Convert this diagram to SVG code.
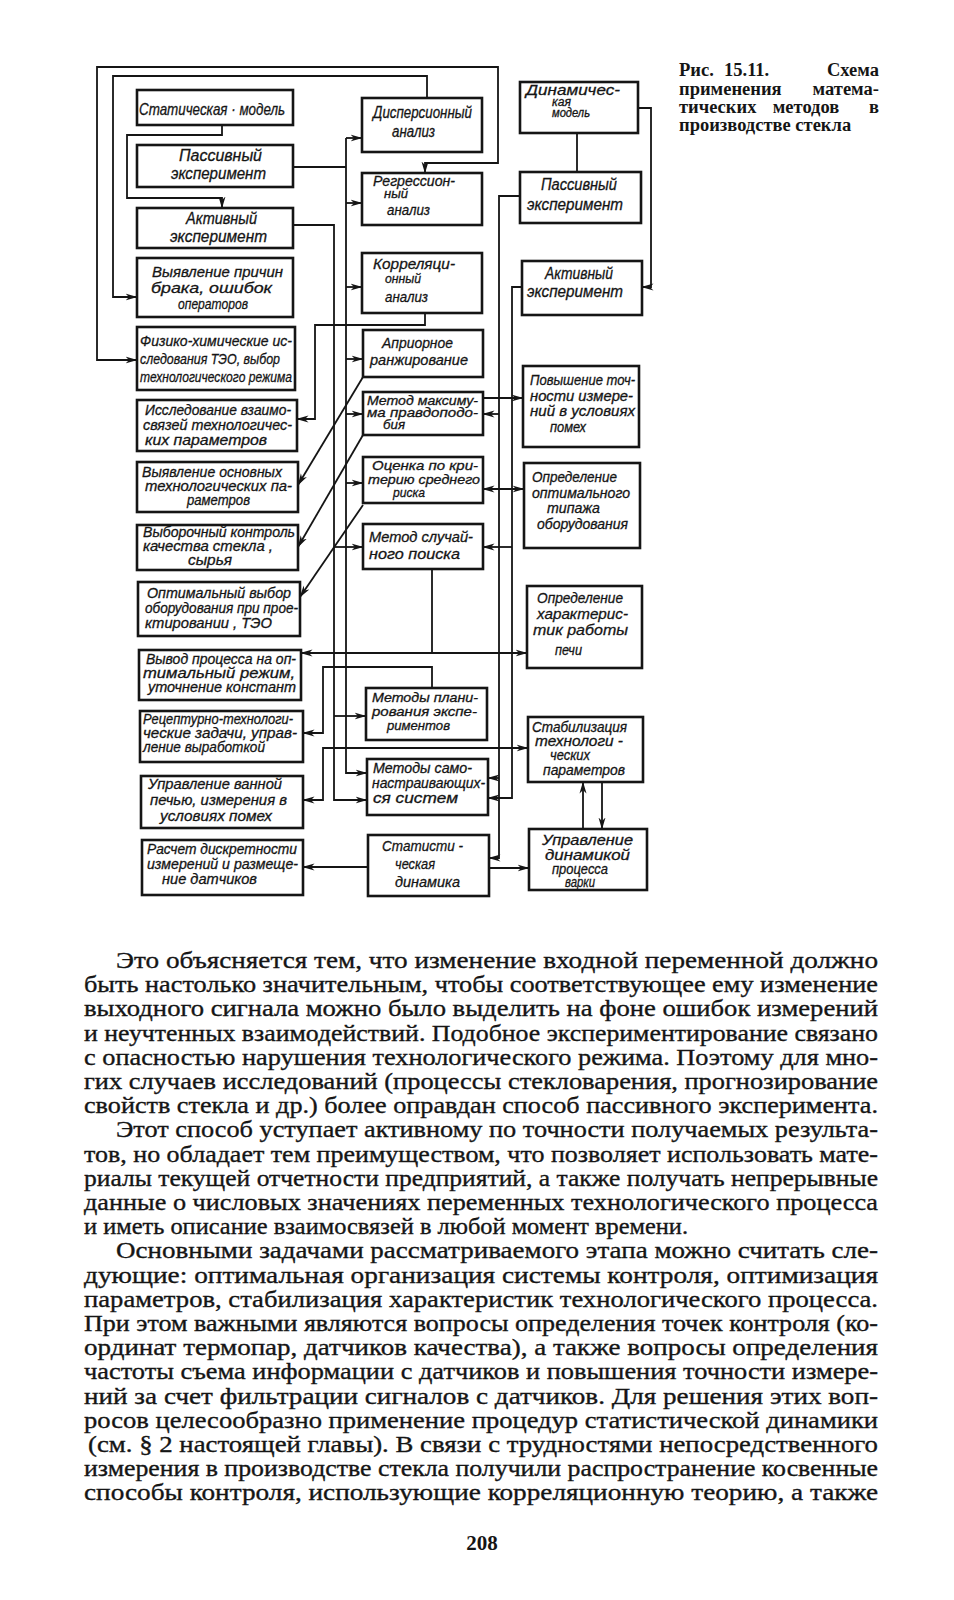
<svg xmlns="http://www.w3.org/2000/svg" width="954" height="1600" viewBox="0 0 954 1600">
<style>
.box{fill:#fff;stroke:#151515;stroke-width:2.6}
.ln{fill:none;stroke:#151515;stroke-width:1.8}
.t{font-family:"Liberation Sans",Arial,sans-serif;font-style:italic;font-size:14px;fill:#151515;stroke:#151515;stroke-width:0.3}
.t2{font-size:16px}
.t15{font-size:15px}
.t13{font-size:13px}
.t12{font-size:12px}
.body{font-family:"Liberation Serif","Times New Roman",serif;font-size:23.5px;fill:#151515;stroke:#151515;stroke-width:0.35}
.cap{font-family:"Liberation Serif","Times New Roman",serif;font-weight:bold;font-size:18.5px;fill:#151515}
</style>
<defs>
<marker id="ah" viewBox="0 0 12 8" refX="11.5" refY="4" markerWidth="12" markerHeight="8" markerUnits="userSpaceOnUse" orient="auto-start-reverse"><path d="M0,0.5 L12,4 L0,7.5 L3.5,4 z" fill="#151515"/></marker>
</defs>
<rect width="954" height="1600" fill="#fff"/>

<g id="connectors">
<path class="ln" d="M425,173 V163 H498 V67 H97 V360 H137" marker-start="url(#ah)" marker-end="url(#ah)"/>
<path class="ln" d="M427,98 V76 H113 V297 H137" marker-end="url(#ah)"/>
<path class="ln" d="M222,125 V135 H127 V198 H222 V208" marker-end="url(#ah)"/>
<path class="ln" d="M293,167 H346"/>
<path class="ln" d="M346,138 V773 H367" marker-end="url(#ah)"/>
<path class="ln" d="M346,138 H362" marker-end="url(#ah)"/>
<path class="ln" d="M346,203 H362" marker-end="url(#ah)"/>
<path class="ln" d="M346,287 H362" marker-end="url(#ah)"/>
<path class="ln" d="M346,359 H363" marker-end="url(#ah)"/>
<path class="ln" d="M346,414 H363" marker-end="url(#ah)"/>
<path class="ln" d="M346,483 H363" marker-end="url(#ah)"/>
<path class="ln" d="M293,225 H334 V800 H367" marker-end="url(#ah)"/>
<path class="ln" d="M334,547 H363" marker-end="url(#ah)"/>
<path class="ln" d="M334,716 H366" marker-end="url(#ah)"/>
<path class="ln" d="M425,313 V325 H315 V419 H297" marker-end="url(#ah)"/>
<path class="ln" d="M363,377 L298,485" marker-end="url(#ah)"/>
<path class="ln" d="M363,435 L298,547" marker-end="url(#ah)"/>
<path class="ln" d="M363,505 L300,597" marker-end="url(#ah)"/>
<path class="ln" d="M432,569 V653"/>
<path class="ln" d="M301,653 H527" marker-start="url(#ah)" marker-end="url(#ah)"/>
<path class="ln" d="M432,688 V667 H323 V733 H303" marker-end="url(#ah)"/>
<path class="ln" d="M303,800 H323 V748 H528" marker-start="url(#ah)" marker-end="url(#ah)"/>
<path class="ln" d="M368,867 H303" marker-end="url(#ah)"/>
<path class="ln" d="M638,108 H651 V287 H642" marker-end="url(#ah)"/>
<path class="ln" d="M577,133 V172"/>
<path class="ln" d="M520,196 H499 V858 H489" marker-end="url(#ah)"/>
<path class="ln" d="M499,414 H483" marker-end="url(#ah)"/>
<path class="ln" d="M499,778 H488" marker-end="url(#ah)"/>
<path class="ln" d="M522,287 H512 V798 H488" marker-end="url(#ah)"/>
<path class="ln" d="M512,547 H483" marker-end="url(#ah)"/>
<path class="ln" d="M483,398 H523" marker-end="url(#ah)"/>
<path class="ln" d="M483,489 H524" marker-start="url(#ah)" marker-end="url(#ah)"/>
<path class="ln" d="M489,868 H529" marker-end="url(#ah)"/>
<path class="ln" d="M583,829 V782" marker-end="url(#ah)"/>
<path class="ln" d="M602,782 V829" marker-end="url(#ah)"/>
</g>

<g id="b1"><rect class="box" x="137" y="90" width="156" height="35"/>
<text class="t" style="font-size:17px" x="139" y="115" textLength="146" lengthAdjust="spacingAndGlyphs">Статическая · модель</text></g>
<g id="b2"><rect class="box" x="137" y="145" width="156" height="42"/>
<text class="t t2" x="179" y="161" textLength="83" lengthAdjust="spacingAndGlyphs">Пассивный</text>
<text class="t t2" x="171" y="179" textLength="95" lengthAdjust="spacingAndGlyphs">эксперимент</text></g>
<g id="b3"><rect class="box" x="137" y="208" width="156" height="40"/>
<text class="t t2" x="186" y="224" textLength="71" lengthAdjust="spacingAndGlyphs">Активный</text>
<text class="t t2" x="170" y="242" textLength="97" lengthAdjust="spacingAndGlyphs">эксперимент</text></g>
<g id="b4"><rect class="box" x="137" y="258" width="156" height="59"/>
<text class="t t15" x="152" y="277" textLength="131" lengthAdjust="spacingAndGlyphs">Выявление причин</text>
<text class="t t15" x="151" y="293" textLength="121" lengthAdjust="spacingAndGlyphs">брака,  ошибок</text>
<text class="t t15" x="178" y="309" textLength="70" lengthAdjust="spacingAndGlyphs">операторов</text></g>
<g id="b5"><rect class="box" x="137" y="327" width="158" height="63"/>
<text class="t t15" x="140" y="346" textLength="152" lengthAdjust="spacingAndGlyphs">Физико-химические ис-</text>
<text class="t t15" x="140" y="364" textLength="140" lengthAdjust="spacingAndGlyphs">следования ТЭО, выбор</text>
<text class="t t15" x="140" y="382" textLength="152" lengthAdjust="spacingAndGlyphs">технологического режима</text></g>
<g id="b6"><rect class="box" x="137" y="400" width="160" height="51"/>
<text class="t" x="145" y="415" textLength="146" lengthAdjust="spacingAndGlyphs">Исследование взаимо-</text>
<text class="t" x="143" y="430" textLength="149" lengthAdjust="spacingAndGlyphs">связей  технологичес-</text>
<text class="t" x="145" y="445" textLength="122" lengthAdjust="spacingAndGlyphs">ких  параметров</text></g>
<g id="b7"><rect class="box" x="137" y="462" width="161" height="50"/>
<text class="t" x="142" y="477" textLength="140" lengthAdjust="spacingAndGlyphs">Выявление основных</text>
<text class="t" x="145" y="491" textLength="147" lengthAdjust="spacingAndGlyphs">технологических па-</text>
<text class="t" x="187" y="505" textLength="63" lengthAdjust="spacingAndGlyphs">раметров</text></g>
<g id="b8"><rect class="box" x="137" y="525" width="161" height="45"/>
<text class="t" x="143" y="537" textLength="152" lengthAdjust="spacingAndGlyphs">Выборочный  контроль</text>
<text class="t" x="143" y="551" textLength="130" lengthAdjust="spacingAndGlyphs">качества  стекла ,</text>
<text class="t" x="188" y="565" textLength="44" lengthAdjust="spacingAndGlyphs">сырья</text></g>
<g id="b9"><rect class="box" x="138" y="582" width="162" height="54"/>
<text class="t" x="147" y="598" textLength="144" lengthAdjust="spacingAndGlyphs">Оптимальный выбор</text>
<text class="t" x="145" y="613" textLength="153" lengthAdjust="spacingAndGlyphs">оборудования при прое-</text>
<text class="t" x="145" y="628" textLength="127" lengthAdjust="spacingAndGlyphs">ктировании ,  ТЭО</text></g>
<g id="b10"><rect class="box" x="139" y="650" width="162" height="50"/>
<text class="t" x="146" y="664" textLength="150" lengthAdjust="spacingAndGlyphs">Вывод процесса на оп-</text>
<text class="t" x="143" y="678" textLength="152" lengthAdjust="spacingAndGlyphs">тимальный  режим,</text>
<text class="t" x="148" y="692" textLength="148" lengthAdjust="spacingAndGlyphs">уточнение  констант</text></g>
<g id="b11"><rect class="box" x="140" y="711" width="163" height="51"/>
<text class="t" x="143" y="724" textLength="150" lengthAdjust="spacingAndGlyphs">Рецептурно-технологи-</text>
<text class="t" x="143" y="738" textLength="154" lengthAdjust="spacingAndGlyphs">ческие  задачи, управ-</text>
<text class="t" x="143" y="752" textLength="122" lengthAdjust="spacingAndGlyphs">ление  выработкой</text></g>
<g id="b12"><rect class="box" x="141" y="776" width="162" height="52"/>
<text class="t t15" x="148" y="789" textLength="134" lengthAdjust="spacingAndGlyphs">Управление  ванной</text>
<text class="t t15" x="150" y="805" textLength="137" lengthAdjust="spacingAndGlyphs">печью,  измерения в</text>
<text class="t t15" x="160" y="821" textLength="112" lengthAdjust="spacingAndGlyphs">условиях  помех</text></g>
<g id="b13"><rect class="box" x="142" y="840" width="161" height="55"/>
<text class="t" x="147" y="854" textLength="150" lengthAdjust="spacingAndGlyphs">Расчет дискретности</text>
<text class="t" x="147" y="869" textLength="151" lengthAdjust="spacingAndGlyphs">измерений и размеще-</text>
<text class="t" x="162" y="884" textLength="95" lengthAdjust="spacingAndGlyphs">ние датчиков</text></g>

<g id="m1"><rect class="box" x="362" y="98" width="120" height="54"/>
<text class="t t2" x="373" y="118" textLength="99" lengthAdjust="spacingAndGlyphs">Дисперсионный</text>
<text class="t t2" x="392" y="137" textLength="43" lengthAdjust="spacingAndGlyphs">анализ</text></g>
<g id="m2"><rect class="box" x="362" y="173" width="120" height="52"/>
<text class="t" x="373" y="186" textLength="82" lengthAdjust="spacingAndGlyphs">Регрессион-</text>
<text class="t t13" x="384" y="198" textLength="24" lengthAdjust="spacingAndGlyphs">ный</text>
<text class="t t15" x="387" y="215" textLength="43" lengthAdjust="spacingAndGlyphs">анализ</text></g>
<g id="m3"><rect class="box" x="362" y="253" width="120" height="60"/>
<text class="t t15" x="373" y="269" textLength="82" lengthAdjust="spacingAndGlyphs">Корреляци-</text>
<text class="t t13" x="385" y="283" textLength="36" lengthAdjust="spacingAndGlyphs">онный</text>
<text class="t t15" x="385" y="302" textLength="43" lengthAdjust="spacingAndGlyphs">анализ</text></g>
<g id="m4"><rect class="box" x="363" y="330" width="120" height="47"/>
<text class="t t15" x="382" y="348" textLength="71" lengthAdjust="spacingAndGlyphs">Априорное</text>
<text class="t t15" x="370" y="365" textLength="98" lengthAdjust="spacingAndGlyphs">ранжирование</text></g>
<g id="m5"><rect class="box" x="363" y="392" width="120" height="43"/>
<text class="t t13" x="367" y="405" textLength="111" lengthAdjust="spacingAndGlyphs">Метод  максиму-</text>
<text class="t t13" x="367" y="417" textLength="111" lengthAdjust="spacingAndGlyphs">ма  правдоподо-</text>
<text class="t t13" x="383" y="429" textLength="22" lengthAdjust="spacingAndGlyphs">бия</text></g>
<g id="m6"><rect class="box" x="363" y="457" width="120" height="46"/>
<text class="t t13" x="372" y="470" textLength="106" lengthAdjust="spacingAndGlyphs">Оценка  по кри-</text>
<text class="t t13" x="368" y="484" textLength="112" lengthAdjust="spacingAndGlyphs">терию  среднего</text>
<text class="t t13" x="393" y="497" textLength="32" lengthAdjust="spacingAndGlyphs">риска</text></g>
<g id="m7"><rect class="box" x="363" y="524" width="120" height="45"/>
<text class="t t15" x="369" y="542" textLength="104" lengthAdjust="spacingAndGlyphs">Метод  случай-</text>
<text class="t t15" x="369" y="559" textLength="91" lengthAdjust="spacingAndGlyphs">ного  поиска</text></g>
<g id="m8"><rect class="box" x="366" y="688" width="121" height="52"/>
<text class="t t13" x="372" y="702" textLength="106" lengthAdjust="spacingAndGlyphs">Методы  плани-</text>
<text class="t t13" x="372" y="716" textLength="105" lengthAdjust="spacingAndGlyphs">рования  экспе-</text>
<text class="t t13" x="387" y="730" textLength="63" lengthAdjust="spacingAndGlyphs">риментов</text></g>
<g id="m9"><rect class="box" x="367" y="759" width="121" height="56"/>
<text class="t" x="373" y="773" textLength="99" lengthAdjust="spacingAndGlyphs">Методы  само-</text>
<text class="t" x="372" y="788" textLength="113" lengthAdjust="spacingAndGlyphs">настраивающих-</text>
<text class="t" x="373" y="803" textLength="85" lengthAdjust="spacingAndGlyphs">ся  систем</text></g>
<g id="m10"><rect class="box" x="368" y="835" width="121" height="61"/>
<text class="t t15" x="382" y="851" textLength="81" lengthAdjust="spacingAndGlyphs">Статисти -</text>
<text class="t t15" x="395" y="869" textLength="40" lengthAdjust="spacingAndGlyphs">ческая</text>
<text class="t t15" x="395" y="887" textLength="65" lengthAdjust="spacingAndGlyphs">динамика</text></g>

<g id="r1"><rect class="box" x="520" y="82" width="118" height="51"/>
<text class="t t15" x="526" y="95" textLength="94" lengthAdjust="spacingAndGlyphs">Динамичес-</text>
<text class="t t12" x="552" y="106" textLength="19" lengthAdjust="spacingAndGlyphs">кая</text>
<text class="t t12" x="552" y="117" textLength="38" lengthAdjust="spacingAndGlyphs">модель</text></g>
<g id="r2"><rect class="box" x="520" y="172" width="121" height="51"/>
<text class="t t2" x="541" y="190" textLength="76" lengthAdjust="spacingAndGlyphs">Пассивный</text>
<text class="t t2" x="527" y="210" textLength="96" lengthAdjust="spacingAndGlyphs">эксперимент</text></g>
<g id="r3"><rect class="box" x="522" y="261" width="120" height="54"/>
<text class="t t2" x="545" y="279" textLength="68" lengthAdjust="spacingAndGlyphs">Активный</text>
<text class="t t2" x="527" y="297" textLength="96" lengthAdjust="spacingAndGlyphs">эксперимент</text></g>
<g id="r4"><rect class="box" x="523" y="366" width="116" height="81"/>
<text class="t" x="530" y="385" textLength="105" lengthAdjust="spacingAndGlyphs">Повышение точ-</text>
<text class="t" x="530" y="401" textLength="103" lengthAdjust="spacingAndGlyphs">ности  измере-</text>
<text class="t" x="530" y="416" textLength="105" lengthAdjust="spacingAndGlyphs">ний в условиях</text>
<text class="t" x="550" y="432" textLength="36" lengthAdjust="spacingAndGlyphs">помех</text></g>
<g id="r5"><rect class="box" x="524" y="463" width="116" height="85"/>
<text class="t" x="532" y="482" textLength="85" lengthAdjust="spacingAndGlyphs">Определение</text>
<text class="t" x="532" y="498" textLength="98" lengthAdjust="spacingAndGlyphs">оптимального</text>
<text class="t" x="547" y="513" textLength="53" lengthAdjust="spacingAndGlyphs">типажа</text>
<text class="t" x="537" y="529" textLength="91" lengthAdjust="spacingAndGlyphs">оборудования</text></g>
<g id="r6"><rect class="box" x="527" y="586" width="115" height="82"/>
<text class="t t15" x="537" y="603" textLength="86" lengthAdjust="spacingAndGlyphs">Определение</text>
<text class="t t15" x="537" y="619" textLength="91" lengthAdjust="spacingAndGlyphs">характерис-</text>
<text class="t t15" x="533" y="635" textLength="95" lengthAdjust="spacingAndGlyphs">тик  работы</text>
<text class="t t15" x="555" y="655" textLength="27" lengthAdjust="spacingAndGlyphs">печи</text></g>
<g id="r7"><rect class="box" x="528" y="717" width="115" height="65"/>
<text class="t" x="532" y="732" textLength="95" lengthAdjust="spacingAndGlyphs">Стабилизация</text>
<text class="t" x="535" y="746" textLength="88" lengthAdjust="spacingAndGlyphs">технологи -</text>
<text class="t" x="550" y="760" textLength="40" lengthAdjust="spacingAndGlyphs">ческих</text>
<text class="t" x="543" y="775" textLength="82" lengthAdjust="spacingAndGlyphs">параметров</text></g>
<g id="r8"><rect class="box" x="529" y="829" width="118" height="61"/>
<text class="t" x="542" y="845" textLength="91" lengthAdjust="spacingAndGlyphs">Управление</text>
<text class="t" x="545" y="860" textLength="85" lengthAdjust="spacingAndGlyphs">динамикой</text>
<text class="t" x="552" y="874" textLength="56" lengthAdjust="spacingAndGlyphs">процесса</text>
<text class="t" x="565" y="887" textLength="30" lengthAdjust="spacingAndGlyphs">варки</text></g>

<g id="caption" class="cap">
<text x="679" y="76">Рис.</text><text x="724" y="76">15.11.</text><text x="879" y="76" text-anchor="end">Схема</text>
<text x="679" y="95">применения</text><text x="879" y="95" text-anchor="end">матема-</text>
<text x="679" y="113">тических</text><text x="806" y="113" text-anchor="middle">методов</text><text x="879" y="113" text-anchor="end">в</text>
<text x="679" y="131">производстве стекла</text>
</g>

<g id="body" class="body">
<text x="116" y="968" textLength="762" lengthAdjust="spacingAndGlyphs">Это объясняется тем, что изменение  входной  переменной должно</text>
<text x="84" y="992.2" textLength="794" lengthAdjust="spacingAndGlyphs">быть настолько значительным, чтобы соответствующее ему изменение</text>
<text x="84" y="1016.4" textLength="794" lengthAdjust="spacingAndGlyphs">выходного сигнала можно было выделить на фоне ошибок измерений</text>
<text x="84" y="1040.6" textLength="794" lengthAdjust="spacingAndGlyphs">и неучтенных взаимодействий. Подобное экспериментирование связано</text>
<text x="84" y="1064.8" textLength="794" lengthAdjust="spacingAndGlyphs">с опасностью нарушения технологического режима. Поэтому для мно-</text>
<text x="84" y="1089" textLength="794" lengthAdjust="spacingAndGlyphs">гих случаев исследований (процессы стекловарения, прогнозирование</text>
<text x="84" y="1113.2" textLength="794" lengthAdjust="spacingAndGlyphs">свойств стекла и др.) более оправдан способ пассивного эксперимента.</text>
<text x="116" y="1137.4" textLength="762" lengthAdjust="spacingAndGlyphs">Этот способ уступает активному по точности получаемых результа-</text>
<text x="84" y="1161.6" textLength="794" lengthAdjust="spacingAndGlyphs">тов, но обладает тем преимуществом, что позволяет использовать мате-</text>
<text x="84" y="1185.8" textLength="794" lengthAdjust="spacingAndGlyphs">риалы текущей отчетности предприятий, а также получать непрерывные</text>
<text x="84" y="1210" textLength="794" lengthAdjust="spacingAndGlyphs">данные о числовых значениях переменных технологического процесса</text>
<text x="84" y="1234.2" textLength="604" lengthAdjust="spacingAndGlyphs">и иметь описание взаимосвязей в любой момент времени.</text>
<text x="116" y="1258.4" textLength="762" lengthAdjust="spacingAndGlyphs">Основными задачами рассматриваемого этапа можно считать сле-</text>
<text x="84" y="1282.6" textLength="794" lengthAdjust="spacingAndGlyphs">дующие: оптимальная  организация  системы контроля, оптимизация</text>
<text x="84" y="1306.8" textLength="794" lengthAdjust="spacingAndGlyphs">параметров, стабилизация характеристик  технологического процесса.</text>
<text x="84" y="1331" textLength="794" lengthAdjust="spacingAndGlyphs">При этом важными являются вопросы определения точек контроля (ко-</text>
<text x="84" y="1355.2" textLength="794" lengthAdjust="spacingAndGlyphs">ординат термопар, датчиков качества), а также вопросы определения</text>
<text x="84" y="1379.4" textLength="794" lengthAdjust="spacingAndGlyphs">частоты съема информации с датчиков и повышения точности измере-</text>
<text x="84" y="1403.6" textLength="794" lengthAdjust="spacingAndGlyphs">ний за счет фильтрации сигналов с датчиков. Для решения этих воп-</text>
<text x="84" y="1427.8" textLength="794" lengthAdjust="spacingAndGlyphs">росов целесообразно  применение  процедур  статистической динамики</text>
<text x="88" y="1452" textLength="790" lengthAdjust="spacingAndGlyphs">(см. § 2 настоящей главы). В связи с трудностями непосредственного</text>
<text x="84" y="1476.2" textLength="794" lengthAdjust="spacingAndGlyphs">измерения в производстве стекла получили распространение косвенные</text>
<text x="84" y="1500.4" textLength="794" lengthAdjust="spacingAndGlyphs">способы  контроля,  использующие  корреляционную теорию, а также</text>
</g>
<text id="pagenum" x="482" y="1550" text-anchor="middle" style="font-family:'Liberation Serif',serif;font-weight:bold;font-size:21px;fill:#151515">208</text>
</svg>
